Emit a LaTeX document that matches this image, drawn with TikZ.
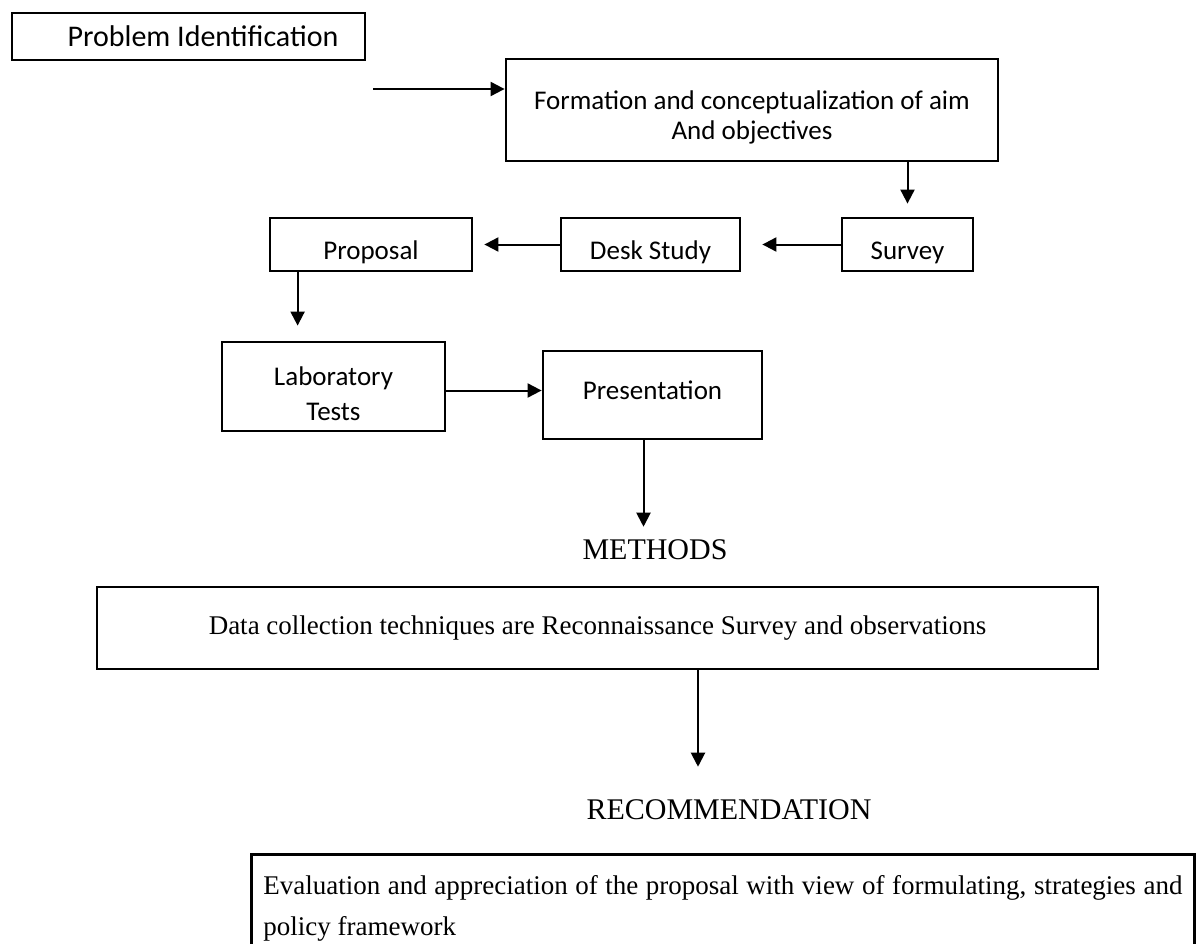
\documentclass[tikz,border=0pt]{standalone}
\usepackage{fontspec}
\setmainfont{Liberation Serif}
\newfontfamily\calibri{Carlito}
\usetikzlibrary{arrows.meta}

\begin{document}
\begin{tikzpicture}[x=1pt, y=-1pt, >={Triangle[length=14pt,width=14pt]}]

  % Styles
  \tikzset{
    box/.style={draw, line width=2.8pt, inner sep=0pt, align=center, font=\calibri\fontsize{27}{33}\selectfont},
    low text/.style={text height=35pt},
    serif text/.style={inner sep=0pt, font=\fontsize{30}{34}\selectfont},
    body text/.style={font=\fontsize{27}{41}\selectfont},
    arr/.style={->, line width=2pt}
  }

  \useasboundingbox (0,0) rectangle (1196,944);
  \clip (0,0) rectangle (1196,944);

  % --- Top: problem and aim ---
  \node[box, minimum width=353pt, minimum height=47pt, font=\calibri\fontsize{30}{34}\selectfont] (prob) at (188.5,36.5) {\hspace*{29pt}Problem Identification};
  \coordinate (start) at (373,89);
  \node[box, text height=63pt, minimum width=492pt, minimum height=102pt, font=\calibri\fontsize{27}{30}\selectfont] (form) at (752,110) {Formation and conceptualization of aim\\And objectives};
  \draw[arr] (start) -- (start -| form.west);

  % --- Second row ---
  \node[box, low text, minimum width=131pt, minimum height=53pt] (survey) at (907.5,244.5) {Survey};
  \node[box, low text, minimum width=179pt, minimum height=53pt] (desk) at (650.5,244.5) {Desk Study};
  \node[box, low text, minimum width=202pt, minimum height=53pt] (prop) at (371,244.5) {Proposal};
  \draw[arr, shorten >=13pt] (survey.north |- form.south) -- (survey.north);
  \draw[arr, shorten >=21pt] (survey.west) -- (desk.east);
  \draw[arr, shorten >=11pt] (desk.west) -- (prop.east);

  % --- Third row ---
  \node[box, text height=68pt, minimum width=223pt, minimum height=89pt, font=\calibri\fontsize{27}{35}\selectfont] (lab) at (333.5,386.5) {Laboratory\\Tests};
  \node[box, minimum width=219pt, minimum height=88pt] (pres) at (652.5,395) {\raisebox{10pt}{Presentation}};
  \draw[arr, shorten >=15pt] ([xshift=29pt]prop.south west) -- ([xshift=29pt]prop.south west |- lab.north);
  \draw[arr] ([yshift=-4pt]lab.east) -- ([yshift=-4pt]lab.east -| pres.west);

  % --- Methods ---
  \node[serif text] (methods) at (655,550) {METHODS};
  \draw[arr, shorten >=13pt] ([xshift=-9pt]pres.south) -- ([xshift=-9pt]pres.south |- methods.north);
  \node[draw, line width=2.8pt, minimum width=1001pt, minimum height=82pt, body text] (data) at (597.5,628) {Data collection techniques are Reconnaissance Survey and observations};

  % --- Recommendation ---
  \node[serif text] (recom) at (729,810) {RECOMMENDATION};
  \draw[arr, shorten >=33pt] ([xshift=-31pt]recom.north |- data.south) -- ([xshift=-31pt]recom.north);
  \node[draw, line width=2.8pt, anchor=north west, inner xsep=12pt, inner ysep=21pt, text width=919pt, align=justify, body text] (eval) at (250,853) {Evaluation and appreciation of the proposal with view of formulating, strategies and\linebreak policy framework};

\end{tikzpicture}
\end{document}
